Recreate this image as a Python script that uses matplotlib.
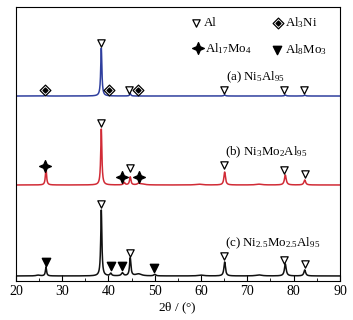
import numpy as np
import matplotlib
matplotlib.use("Agg")
import matplotlib.pyplot as plt
from matplotlib.path import Path
from matplotlib.ticker import MultipleLocator

plt.rcParams['font.family'] = ['Liberation Serif', 'DejaVu Serif']
plt.rcParams['mathtext.fontset'] = 'stix'
plt.rcParams['mathtext.default'] = 'regular'

# peak lists: 2theta, intensity (arb.), width (fwhm, deg)
peaks_a = [(26.4, 1.0, 0.3), (38.45, 48, 0.3), (44.7, 2.5, 0.3), (65.1, 1.0, 0.4),
           (78.2, 1.0, 0.4), (82.4, 0.8, 0.4)]
peaks_b = [(26.5, 17, 0.3), (38.45, 56, 0.3), (43.4, 2.5, 0.4), (44.7, 8, 0.35),
           (46.5, 1.5, 0.5), (65.1, 13, 0.4), (78.2, 10, 0.45), (82.4, 5, 0.45),
           (47.2, 1.0, 1.5), (59.5, 0.8, 1.5), (72.5, 0.8, 1.5)]
peaks_c = [(26.5, 9, 0.3), (38.45, 66, 0.3), (40.5, 2.5, 0.4), (43.0, 3, 0.5),
           (44.7, 18, 0.35), (50.0, 1.5, 0.5), (65.1, 14, 0.4), (78.2, 12, 0.45),
           (82.4, 6, 0.45), (46.5, 2.0, 1.5), (60.0, 0.8, 1.5), (72.5, 1.0, 1.5),
           (24.8, 0.8, 1.0)]
baselines = [185, 96, 5]
colors = ['#2f3f9e', '#d12b36', '#111111']
labels = [r'(a) Ni$_5$Al$_{95}$', r'(b) Ni$_3$Mo$_2$Al$_{95}$',
          r'(c) Ni$_{2.5}$Mo$_{2.5}$Al$_{95}$']
label_pos = [(65.3, 204), (65.2, 129), (65.2, 38)]

# phase markers: (2theta, height)
al_marks = [[(38.4, 238), (44.4, 191), (64.9, 191), (77.9, 191), (82.2, 191)],
            [(38.4, 158), (44.6, 113), (65.0, 116), (78.0, 111), (82.4, 107)],
            [(38.4, 77), (44.6, 28), (65.0, 25), (78.0, 21), (82.4, 17)]]
al3ni_marks = [(26.3, 191), (40.1, 191), (46.3, 191)]
al17mo4_marks = [(26.3, 115), (43.0, 104), (46.6, 104)]
al8mo3_marks = [(26.4, 19), (40.6, 15), (42.9, 15), (49.8, 13)]

# legend entries: marker position and label position
leg_names = ['Al', r'Al$_3$Ni', r'Al$_{17}$Mo$_4$', r'Al$_8$Mo$_3$']
leg_marker_xy = [(58.9, 258), (76.6, 258), (59.3, 233), (76.4, 231)]
leg_text_xy = [(60.7, 258), (78.2, 258), (60.9, 232), (78.2, 231)]

star = Path([(0, 1), (0.3, 0.3), (1, 0), (0.3, -0.3), (0, -1),
             (-0.3, -0.3), (-1, 0), (-0.3, 0.3), (0, 1)],
            [Path.MOVETO] + [Path.LINETO] * 7 + [Path.CLOSEPOLY])

x = np.linspace(20, 90, 3500)


def profile(peaks, base):
    y = np.full_like(x, float(base))
    for pos, h, w in peaks:
        g = (w / 2) ** 2
        y += h * g / ((x - pos) ** 2 + g)
    return y


def draw_al(ax, xs, ys):
    ax.scatter(xs, ys, marker='v', facecolor='white', edgecolor='black',
               s=28, linewidths=0.9, zorder=5)


def draw_al3ni(ax, xs, ys):
    ax.scatter(xs, ys, marker='D', facecolor='white', edgecolor='black',
               s=30, linewidths=0.9, zorder=5)
    ax.scatter(xs, ys, marker='D', color='black', s=6, zorder=6)


def draw_al17mo4(ax, xs, ys):
    ax.scatter(xs, ys, marker=star, color='black', s=70, zorder=5)


def draw_al8mo3(ax, xs, ys):
    ax.scatter(xs, ys, marker='v', color='black', s=36, zorder=5)


fig = plt.figure(figsize=(3.53, 3.20), dpi=100)
ax = fig.add_axes([0.045, 0.122, 0.918, 0.856])

for pk, b, c in zip([peaks_a, peaks_b, peaks_c], baselines, colors):
    ax.plot(x, profile(pk, b), color=c, lw=1.1)

for lab, (lx, ly) in zip(labels, label_pos):
    ax.text(lx, ly, lab, ha='left', va='center', fontsize=9.3)

for marks in al_marks:
    draw_al(ax, *zip(*marks))
draw_al3ni(ax, *zip(*al3ni_marks))
draw_al17mo4(ax, *zip(*al17mo4_marks))
draw_al8mo3(ax, *zip(*al8mo3_marks))

# hand-placed legend
drawers = [draw_al, draw_al3ni, draw_al17mo4, draw_al8mo3]
for fn, (mx, my), name, (tx, ty) in zip(drawers, leg_marker_xy, leg_names, leg_text_xy):
    fn(ax, [mx], [my])
    ax.text(tx, ty, name, ha='left', va='center', fontsize=9.3)

ax.set_xlim(20, 90)
ax.set_ylim(0, 274)
ax.xaxis.set_major_locator(MultipleLocator(10))
ax.xaxis.set_minor_locator(MultipleLocator(5))
ax.set_yticks([])
ax.tick_params(axis='x', direction='in', length=4, labelsize=10, pad=3)
ax.tick_params(axis='x', which='minor', direction='in', length=2.5)
ax.set_xlabel(r'$2\theta$ / (°)', fontsize=9.5, labelpad=2)
for s in ax.spines.values():
    s.set_linewidth(0.8)

fig.savefig('out.png', dpi=100)
